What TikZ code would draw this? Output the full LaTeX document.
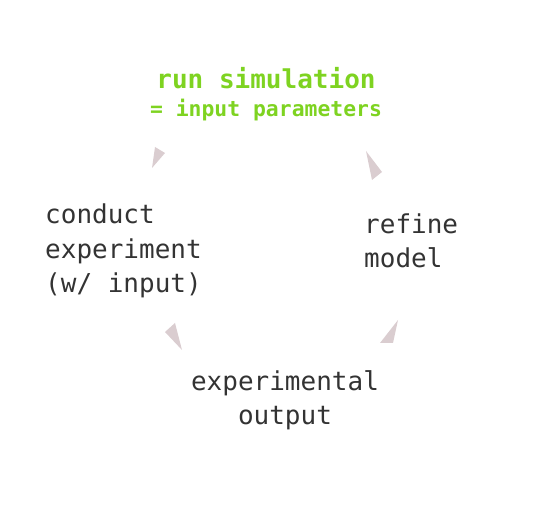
\documentclass[tikz,border=0pt]{standalone}
\usepackage{fontspec}
\setmainfont{DejaVu Sans Mono}
\definecolor{simgreen}{HTML}{7ED321}
\definecolor{txt}{HTML}{333333}
\definecolor{tipc}{HTML}{DACDD0}
\begin{document}
\begin{tikzpicture}[x=1pt,y=-1pt,
  lbl/.style={inner sep=0pt, text=txt, font=\fontsize{26}{34.5}\selectfont},
  tipshape/.style={fill=tipc, draw=none}]
\useasboundingbox (0,0) rectangle (536,510);
\node[inner sep=0pt, text=simgreen, anchor=base, font=\fontsize{26}{30}\selectfont\bfseries] (sim) at (266,89) {run simulation};
\node[inner sep=0pt, text=simgreen, anchor=base, font=\fontsize{21.4}{26}\selectfont\bfseries] (simsub) at (266,117) {= input parameters};
\node[lbl, align=left, anchor=base west] (cond) at (45,293) {conduct\\experiment\\(w/ input)};
\node[lbl, align=left, anchor=base west] (ref) at (364,268) {refine\\model};
\node[lbl, align=center, anchor=base] (exp) at (285,425) {experimental\\output};
\fill[tipshape] (155,147) -- (165,153) -- (152,168) -- cycle;
\fill[tipshape] (366,151) -- (382,172) -- (372,180) -- cycle;
\fill[tipshape] (165,332) -- (175,323) -- (182,350) -- cycle;
\fill[tipshape] (398,320) -- (380,343) -- (393,343) -- cycle;
\end{tikzpicture}
\end{document}
